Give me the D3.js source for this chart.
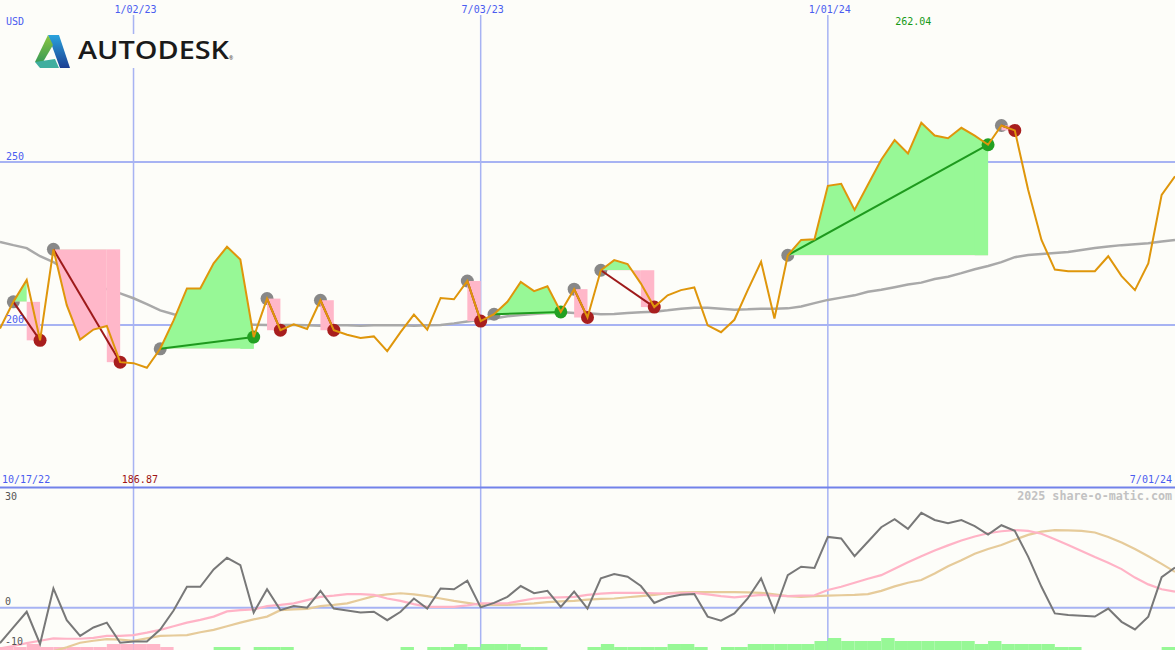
<!DOCTYPE html>
<html><head><meta charset="utf-8">
<script src="https://cdn.jsdelivr.net/npm/d3@7"></script>
<style>html,body{margin:0;padding:0;background:#fdfdf9;} svg{display:block}</style>
</head><body><svg id="c" width="1175" height="650"></svg>
<script>
// weekly closes (USD), 10/24/22 .. 7/01/24
const price = [198.9, 207.1, 213.8, 195.3, 223.2, 206.1, 195.5, 198.6, 199.7, 188.6,
188.3, 186.87, 192.7, 201.4, 211.2, 211.2, 218.9, 224.0, 220.1, 196.3,
208.1, 198.4, 200.2, 198.8, 207.6, 198.4, 197.0, 196.0, 196.5, 192.0,
197.8, 203.2, 198.6, 208.3, 207.9, 213.5, 201.2, 203.3, 207.1, 213.2,
210.4, 211.9, 204.0, 211.0, 202.3, 216.8, 219.9, 218.7, 212.7, 205.5,
209.1, 210.7, 211.5, 199.9, 197.8, 201.6, 210.7, 219.4, 202.0, 221.4,
226.1, 226.3, 242.7, 243.3, 235.3, 243.0, 250.7, 256.7, 252.6, 262.04,
258.1, 257.3, 260.5, 258.1, 255.3, 261.2, 259.7, 241.5, 226.1, 217.0,
216.5, 216.5, 216.5, 221.1, 215.0, 210.7, 218.9, 239.9, 245.6];
// long moving average (grey)
const movingAvg = [225.5, 224.5, 223.6, 221.1, 219.3, 216.8, 213.8, 212.2, 211.0, 209.7,
208.2, 206.4, 204.5, 203.3, 202.5, 202.4, 201.4, 200.8, 200.4, 200.1,
200.0, 200.0, 200.0, 199.9, 199.8, 199.9, 199.9, 199.8, 199.9, 199.9,
199.9, 199.8, 199.9, 200.0, 200.5, 201.1, 201.6, 202.0, 202.7, 203.1,
203.4, 203.7, 204.0, 203.7, 203.6, 203.3, 203.4, 203.7, 203.9, 204.1,
204.5, 205.0, 205.3, 205.3, 205.0, 204.7, 204.8, 205.0, 205.0, 205.1,
205.7, 206.7, 207.7, 208.4, 209.1, 210.2, 210.8, 211.6, 212.4, 213.0,
214.1, 214.8, 215.9, 217.1, 218.1, 219.3, 220.8, 221.5, 221.8, 222.1,
222.4, 223.0, 223.6, 224.1, 224.5, 224.8, 225.1, 225.6, 226.1];
// lower panel oscillator (dark grey) and its two smoothings
const osc = [-8.8, -4.9, -1.0, -9.0, 4.8, -3.1, -7.0, -4.9, -3.7, -8.7,
-8.4, -8.4, -5.4, -0.7, 5.2, 5.2, 9.5, 12.4, 10.6, -1.2,
4.6, -0.6, 0.4, 0.0, 4.2, -0.2, -0.7, -1.2, -1.0, -3.1,
-1.0, 2.3, -0.2, 4.8, 4.6, 6.7, 0.1, 1.2, 2.7, 5.4,
3.6, 4.2, 0.2, 4.0, -0.2, 7.3, 8.4, 7.7, 5.4, 1.2,
2.6, 3.2, 3.4, -2.2, -3.2, -1.4, 2.3, 7.3, -1.0, 8.1,
10.2, 9.9, 17.6, 17.2, 12.8, 16.4, 20.0, 22.0, 19.6, 23.6,
21.8, 21.0, 21.8, 20.3, 18.2, 20.5, 19.1, 12.7, 5.2, -1.4,
-1.8, -2.0, -2.2, -0.2, -3.5, -5.4, -2.2, 7.6, 10.0];
const oscPink = [-10.1, -9.5, -8.8, -8.2, -7.6, -7.7, -7.7, -7.5, -7.0, -7.0,
-6.8, -6.2, -5.5, -4.6, -3.7, -3.0, -2.2, -0.9, -0.6, -0.4,
0.4, 0.7, 1.1, 1.9, 2.7, 3.0, 3.4, 3.4, 3.2, 2.3,
1.7, 0.9, 0.2, 0.2, 0.2, 0.6, 1.1, 1.1, 1.1, 1.7,
2.3, 2.5, 2.6, 2.7, 3.2, 3.5, 3.7, 3.7, 3.7, 3.6,
3.5, 3.6, 3.7, 3.3, 2.9, 2.6, 2.9, 3.2, 3.0, 2.9,
3.0, 3.1, 4.4, 5.2, 6.2, 7.2, 8.1, 9.7, 11.3, 12.8,
14.2, 15.5, 16.7, 17.7, 18.5, 19.0, 19.3, 19.1, 18.4, 17.0,
15.6, 14.1, 12.6, 11.2, 9.6, 7.5, 5.8, 4.6, 4.0];
const oscTan = [-14, -13.5, -12.8, -11.8, -10.8, -9.8, -8.7, -8.2, -7.8, -7.9,
-8.2, -7.6, -7.0, -6.9, -6.8, -6.1, -5.5, -4.6, -3.7, -2.9,
-2.2, -0.6, -0.4, -0.3, 0.4, 0.7, 1.1, 2.0, 2.9, 3.3,
3.6, 3.3, 2.9, 2.3, 1.7, 1.2, 0.7, 0.7, 0.7, 0.9,
1.1, 1.4, 1.6, 1.7, 2.0, 2.2, 2.3, 2.6, 2.9, 3.2,
3.6, 3.8, 3.9, 3.9, 3.9, 3.9, 3.8, 3.7, 3.3, 2.9,
2.7, 2.9, 3.0, 3.1, 3.2, 3.4, 4.2, 5.3, 6.2, 6.9,
8.5, 10.3, 11.8, 13.4, 14.6, 15.6, 16.9, 18.1, 18.9, 19.3,
19.2, 19.1, 18.7, 17.6, 16.2, 14.6, 12.8, 10.9, 8.9];
// weekly signal bars (+ green, - pink), in levels
const signalBars = [-1, -1, -2, -1, -1, -1, -1, -1, -2, -2,
-2, -2, -1, 0, 0, 0, 1, 1, 0, 1,
1, 1, 0, 0, 0, 0, 0, 0, 0, 0,
1, 0, 1, 1, 2, 1, 2, 2, 2, 1,
1, 0, 0, 0, 1, 2, 1, 1, 1, 1,
2, 2, 1, 0, 1, 1, 2, 2, 2, 2,
2, 3, 4, 3, 3, 3, 4, 3, 3, 3,
3, 3, 3, 2, 3, 2, 2, 2, 2, 1,
1, 0, 0, 0, 0, 0, 0, 1];
// trades: entry week index -> exit week index
const tradeEntry = [1, 4, 12, 20, 24, 35, 37, 43, 45, 59, 75];
const tradeExit  = [3, 9, 19, 21, 25, 36, 42, 44, 49, 74, 76];
// date ticks
const tickIndex = [10, 36, 62];
const tickLabels = ["1/02/23", "7/03/23", "1/01/24"];
const priceTicks = [250, 200];
const oscTicks = [30, 0, -10];
const startLabel = "10/17/22", endLabel = "7/01/24";
const maxLabel = "262.04", minLabel = "186.87";

const W = 1175, H = 650, DIV = 487;
const svg = d3.select("#c");
svg.append("rect").attr("width", W).attr("height", H).attr("fill", "#fdfdf9");
const defs = svg.append("defs");

const x = d3.scaleLinear().domain([0, price.length - 1]).range([0, W]);
const y = d3.scaleLinear().domain([150, 300]).range([488, -1]);
const yl = d3.scaleLinear().domain([-10.5, 30]).range([650, 487]);
const yb = d3.scaleLinear().domain([0, 4]).range([650, 638]);

defs.append("clipPath").attr("id", "cu").append("rect").attr("x", 0).attr("y", 0).attr("width", W).attr("height", DIV);
defs.append("clipPath").attr("id", "cl").append("rect").attr("x", 0).attr("y", DIV + 1).attr("width", W).attr("height", H - DIV - 1);

const gridC = "#a7b3f3";
const mono = "'DejaVu Sans Mono', monospace";

// vertical grid
svg.append("g").selectAll("line").data(tickIndex).join("line")
  .attr("x1", d => x(d)).attr("x2", d => x(d)).attr("y1", 15).attr("y2", H)
  .attr("stroke", gridC).attr("stroke-width", 1.5);
// horizontal price grid
svg.append("g").selectAll("line").data(priceTicks).join("line")
  .attr("x1", 0).attr("x2", W).attr("y1", d => y(d)).attr("y2", d => y(d))
  .attr("stroke", gridC).attr("stroke-width", 2);
// lower zero line
svg.append("line").attr("x1", 0).attr("x2", W).attr("y1", yl(0)).attr("y2", yl(0))
  .attr("stroke", gridC).attr("stroke-width", 2);
// panel divider
svg.append("line").attr("x1", 0).attr("x2", W).attr("y1", DIV + 0.5).attr("y2", DIV + 0.5)
  .attr("stroke", "#7282ea").attr("stroke-width", 2);

const up = svg.append("g").attr("clip-path", "url(#cu)");
const line = d3.line().x((d, i) => x(i));

// moving average
up.append("path").datum(movingAvg).attr("d", line.y(d => y(d)))
  .attr("fill", "none").attr("stroke", "#a9a9a9").attr("stroke-width", 2.5);

const trades = tradeEntry.map((a, k) => ({ a, b: tradeExit[k], win: price[tradeExit[k]] > price[a] }));
const GREEN = "#97f896", PINK = "#ffb7c9";

// entry circles
up.append("g").selectAll("circle").data(trades).join("circle")
  .attr("cx", t => x(t.a)).attr("cy", t => y(price[t.a])).attr("r", 6.5).attr("fill", "#888888");

// fills
trades.forEach((t, k) => {
  const e = price[t.a], ye = y(e);
  defs.append("clipPath").attr("id", "ab" + k).append("rect").attr("x", 0).attr("y", 0).attr("width", W).attr("height", ye);
  defs.append("clipPath").attr("id", "be" + k).append("rect").attr("x", 0).attr("y", ye).attr("width", W).attr("height", H - ye);
  const end = t.win ? t.b : t.b - 1;
  if (end > t.a) {
    const idx = d3.range(t.a, end + 1);
    const ar = d3.area().x(i => x(i)).y0(ye).y1(i => y(price[i]));
    up.append("path").datum(idx).attr("d", ar).attr("fill", GREEN).attr("clip-path", `url(#ab${k})`);
    up.append("path").datum(idx).attr("d", ar).attr("fill", PINK).attr("clip-path", `url(#be${k})`);
  }
  const yx = y(price[t.b]);
  up.append("rect").attr("x", x(t.b - 1)).attr("width", x(t.b) - x(t.b - 1))
    .attr("y", Math.min(ye, yx)).attr("height", Math.abs(ye - yx))
    .attr("fill", t.win ? GREEN : PINK);
});

// connection lines
up.append("g").selectAll("line").data(trades).join("line")
  .attr("x1", t => x(t.a)).attr("y1", t => y(price[t.a]))
  .attr("x2", t => x(t.b)).attr("y2", t => y(price[t.b]))
  .attr("stroke", t => t.win ? "#1e9a1e" : "#9e1a1a").attr("stroke-width", 2);

// exit circles
up.append("g").selectAll("circle").data(trades).join("circle")
  .attr("cx", t => x(t.b)).attr("cy", t => y(price[t.b])).attr("r", 6.5)
  .attr("fill", t => t.win ? "#22a022" : "#a81e1e");

// price line
up.append("path").datum(price).attr("d", d3.line().x((d, i) => x(i)).y(d => y(d)))
  .attr("fill", "none").attr("stroke", "#df960b").attr("stroke-width", 2).attr("stroke-linejoin", "miter");

// lower panel
const lo = svg.append("g").attr("clip-path", "url(#cl)");
lo.append("g").selectAll("rect").data(signalBars).join("rect")
  .attr("x", (d, i) => x(i)).attr("width", (d, i) => x(i + 1) - x(i))
  .attr("y", d => yb(Math.abs(d))).attr("height", d => yb(0) - yb(Math.abs(d)))
  .attr("fill", d => d > 0 ? GREEN : PINK);
const ll = d3.line().x((d, i) => x(i)).y(d => yl(d));
lo.append("path").datum(oscTan).attr("d", ll).attr("fill", "none").attr("stroke", "#e6cb9a").attr("stroke-width", 2.2);
lo.append("path").datum(oscPink).attr("d", ll).attr("fill", "none").attr("stroke", "#ffb3c6").attr("stroke-width", 2.2);
lo.append("path").datum(osc).attr("d", ll).attr("fill", "none").attr("stroke", "#787878").attr("stroke-width", 2);

// texts
const txt = (s, xx, yy, col, anchor, size, weight) => svg.append("text").text(s)
  .attr("x", xx).attr("y", yy).attr("fill", col).attr("font-family", mono)
  .attr("font-size", size || 10).attr("text-anchor", anchor || "start").attr("font-weight", weight || "normal");
const BLUE = "#4a5cf0";
txt("USD", 6, 25, BLUE);
tickIndex.forEach((t, k) => txt(tickLabels[k], x(t) + 2, 13, BLUE, "middle"));
priceTicks.forEach(v => txt(String(v), 6, y(v) - 2.5, BLUE));
const iMax = price.indexOf(d3.max(price)), iMin = price.indexOf(d3.min(price));
txt(maxLabel, x(iMax) - 8, 25, "#169a16", "middle");
txt(minLabel, x(iMin) - 7, 483, "#9e1414", "middle");
txt(startLabel, 2, 483, BLUE);
txt(endLabel, W - 3, 483, BLUE, "end");
oscTicks.forEach(v => txt(String(v), 5, Math.max(yl(v) - 2.5, 499.5), "#555555"));
txt("2025 share-o-matic.com", W - 3, 500, "#c2c2c2", "end", 11.7, "bold");

// logo
const lg = svg.append("g");
lg.append("rect").attr("x", 30).attr("y", 34).attr("width", 210).attr("height", 34).attr("fill", "#fdfdf9");
const gb = defs.append("linearGradient").attr("id", "gb").attr("x1", 0).attr("y1", 0).attr("x2", 0).attr("y2", 1);
gb.append("stop").attr("offset", 0).attr("stop-color", "#2aa3dd");
gb.append("stop").attr("offset", 1).attr("stop-color", "#1c3f93");
const gg = defs.append("linearGradient").attr("id", "gg").attr("x1", 0).attr("y1", 0).attr("x2", 0).attr("y2", 1);
gg.append("stop").attr("offset", 0).attr("stop-color", "#8cc63f");
gg.append("stop").attr("offset", 1).attr("stop-color", "#3a9b55");
lg.append("polygon").attr("points", "48,35 59,35 70,68 60,68").attr("fill", "url(#gb)");
lg.append("polygon").attr("points", "48,35 53,45 43,62 35,62").attr("fill", "url(#gg)");
lg.append("polygon").attr("points", "35,62 55,59 59,68 40,68").attr("fill", "#3fae9f");
lg.append("text").text("AUTODESK").attr("x", 78).attr("y", 59)
  .attr("font-family", "'Open Sans', 'Liberation Sans', sans-serif").attr("font-weight", 600)
  .attr("font-size", 25.5).attr("textLength", 151).attr("lengthAdjust", "spacingAndGlyphs").attr("fill", "#1a1a1a");
lg.append("text").text("®").attr("x", 229).attr("y", 60).attr("font-size", 5).attr("fill", "#333")
  .attr("font-family", "'Open Sans', sans-serif");
</script></body></html>
